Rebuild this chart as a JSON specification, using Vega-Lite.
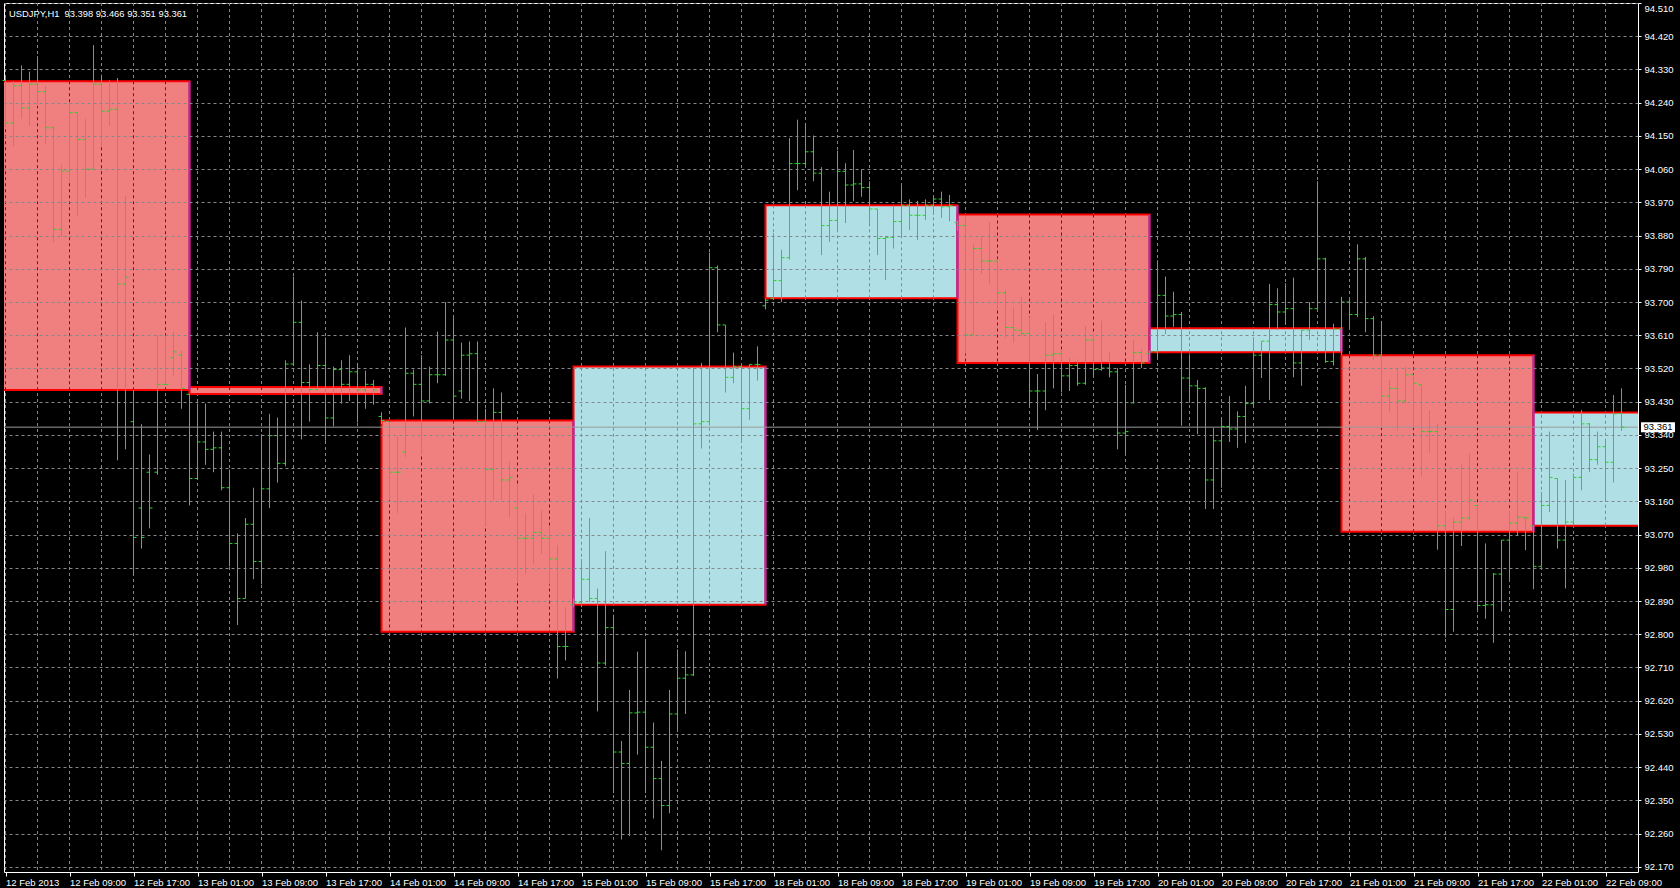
{
"$schema": "https://vega.github.io/schema/vega-lite/v6.json",
"width": 1634, "height": 869,
"autosize": {"type": "none"},
"padding": {"left": 4, "top": 3, "right": 42, "bottom": 16},
"background": "#000000",
"title": {"text": "USDJPY,H1 \u00a093.398 93.466 93.351 93.361", "anchor": "start", "frame": "group", "orient": "top", "offset": -11, "dx": 5, "dy": 5.5, "font": "Liberation Sans", "fontSize": 9.4, "fontWeight": "normal", "color": "#FFFFFF"},
"config": {"view": {"stroke": "#FFFFFF", "strokeWidth": 1}, "font": "Liberation Sans"},
"datasets": {
"days": [
{"day":"12 Feb","s":0,"e":24,"open":94.298,"close":93.462,"dir":"down"},
{"day":"13 Feb","s":24,"e":48,"open":93.470,"close":93.451,"dir":"down"},
{"day":"14 Feb","s":48,"e":72,"open":93.379,"close":92.807,"dir":"down"},
{"day":"15 Feb","s":72,"e":96,"open":92.880,"close":93.525,"dir":"up"},
{"day":"18 Feb","s":96,"e":120,"open":93.710,"close":93.962,"dir":"up"},
{"day":"19 Feb","s":120,"e":144,"open":93.937,"close":93.535,"dir":"down"},
{"day":"20 Feb","s":144,"e":168,"open":93.564,"close":93.629,"dir":"up"},
{"day":"21 Feb","s":168,"e":192,"open":93.556,"close":93.078,"dir":"down"},
{"day":"22 Feb","s":192,"e":216,"open":93.094,"close":93.401,"dir":"up"}
],
"grid": [{"g":1,"day":"12 Feb"},{"g":5,"day":"12 Feb"},{"g":9,"day":"12 Feb"},{"g":13,"day":"12 Feb"},{"g":17,"day":"12 Feb"},{"g":21,"day":"12 Feb"},
{"g":25,"day":"13 Feb"},{"g":29,"day":"13 Feb"},{"g":33,"day":"13 Feb"},{"g":37,"day":"13 Feb"},{"g":41,"day":"13 Feb"},{"g":45,"day":"13 Feb"},
{"g":49,"day":"14 Feb"},{"g":53,"day":"14 Feb"},{"g":57,"day":"14 Feb"},{"g":61,"day":"14 Feb"},{"g":65,"day":"14 Feb"},{"g":69,"day":"14 Feb"},
{"g":73,"day":"15 Feb"},{"g":77,"day":"15 Feb"},{"g":81,"day":"15 Feb"},{"g":85,"day":"15 Feb"},{"g":89,"day":"15 Feb"},{"g":93,"day":"15 Feb"},
{"g":97,"day":"18 Feb"},{"g":101,"day":"18 Feb"},{"g":105,"day":"18 Feb"},{"g":109,"day":"18 Feb"},{"g":113,"day":"18 Feb"},{"g":117,"day":"18 Feb"},
{"g":121,"day":"19 Feb"},{"g":125,"day":"19 Feb"},{"g":129,"day":"19 Feb"},{"g":133,"day":"19 Feb"},{"g":137,"day":"19 Feb"},{"g":141,"day":"19 Feb"},
{"g":145,"day":"20 Feb"},{"g":149,"day":"20 Feb"},{"g":153,"day":"20 Feb"},{"g":157,"day":"20 Feb"},{"g":161,"day":"20 Feb"},{"g":165,"day":"20 Feb"},
{"g":169,"day":"21 Feb"},{"g":173,"day":"21 Feb"},{"g":177,"day":"21 Feb"},{"g":181,"day":"21 Feb"},{"g":185,"day":"21 Feb"},{"g":189,"day":"21 Feb"},
{"g":193,"day":"22 Feb"},{"g":197,"day":"22 Feb"},{"g":201,"day":"22 Feb"}],
"bid": [{"price":93.361,"label":"93.361","pos":207.56}],
"bars": [
{"i":1,"o":94.30,"h":94.307,"l":94.176,"c":94.185},
{"i":2,"o":94.185,"h":94.298,"l":94.121,"c":94.286},
{"i":3,"o":94.286,"h":94.341,"l":94.196,"c":94.226},
{"i":4,"o":94.226,"h":94.324,"l":94.176,"c":94.29},
{"i":5,"o":94.29,"h":94.366,"l":94.231,"c":94.27},
{"i":6,"o":94.27,"h":94.286,"l":94.127,"c":94.172},
{"i":7,"o":94.172,"h":94.176,"l":93.861,"c":93.897},
{"i":8,"o":93.897,"h":94.072,"l":93.877,"c":94.055},
{"i":9,"o":94.055,"h":94.240,"l":94.024,"c":94.213},
{"i":10,"o":94.213,"h":94.213,"l":93.932,"c":94.14},
{"i":11,"o":94.14,"h":94.196,"l":93.983,"c":94.06},
{"i":12,"o":94.06,"h":94.396,"l":94.059,"c":94.29},
{"i":13,"o":94.29,"h":94.316,"l":94.121,"c":94.217},
{"i":14,"o":94.217,"h":94.300,"l":94.176,"c":94.222},
{"i":15,"o":94.222,"h":94.307,"l":93.271,"c":93.749},
{"i":16,"o":93.749,"h":93.987,"l":93.301,"c":93.767},
{"i":17,"o":93.376,"h":93.462,"l":92.961,"c":93.062},
{"i":18,"o":93.142,"h":93.369,"l":93.032,"c":93.062},
{"i":19,"o":93.239,"h":93.287,"l":93.087,"c":93.142},
{"i":20,"o":93.239,"h":93.611,"l":93.232,"c":93.477},
{"i":21,"o":93.477,"h":93.604,"l":93.474,"c":93.477},
{"i":22,"o":93.549,"h":93.620,"l":93.500,"c":93.565},
{"i":23,"o":93.556,"h":93.569,"l":93.411,"c":93.466},
{"i":24,"o":93.45,"h":93.452,"l":93.149,"c":93.222},
{"i":25,"o":93.222,"h":93.425,"l":93.218,"c":93.321},
{"i":26,"o":93.321,"h":93.425,"l":93.259,"c":93.301},
{"i":27,"o":93.301,"h":93.349,"l":93.239,"c":93.305},
{"i":28,"o":93.305,"h":93.349,"l":93.190,"c":93.197},
{"i":29,"o":93.197,"h":93.246,"l":92.984,"c":93.046},
{"i":30,"o":93.046,"h":93.073,"l":92.825,"c":92.897},
{"i":31,"o":92.897,"h":93.115,"l":92.897,"c":93.098},
{"i":32,"o":93.098,"h":93.197,"l":92.949,"c":92.997},
{"i":33,"o":92.997,"h":93.342,"l":92.935,"c":93.194},
{"i":34,"o":93.194,"h":93.397,"l":93.142,"c":93.338},
{"i":35,"o":93.338,"h":93.387,"l":93.211,"c":93.263},
{"i":36,"o":93.263,"h":93.542,"l":93.255,"c":93.532},
{"i":37,"o":93.532,"h":93.769,"l":93.528,"c":93.645},
{"i":38,"o":93.645,"h":93.704,"l":93.328,"c":93.482},
{"i":39,"o":93.482,"h":93.531,"l":93.376,"c":93.463},
{"i":40,"o":93.463,"h":93.618,"l":93.46,"c":93.528},
{"i":41,"o":93.528,"h":93.604,"l":93.324,"c":93.386},
{"i":42,"o":93.386,"h":93.525,"l":93.363,"c":93.517},
{"i":43,"o":93.517,"h":93.542,"l":93.425,"c":93.477},
{"i":44,"o":93.477,"h":93.556,"l":93.432,"c":93.511},
{"i":45,"o":93.511,"h":93.535,"l":93.374,"c":93.462},
{"i":46,"o":93.462,"h":93.514,"l":93.411,"c":93.477},
{"i":47,"o":93.477,"h":93.489,"l":93.422,"c":93.462},
{"i":48,"o":93.39,"h":93.401,"l":93.370,"c":93.379},
{"i":49,"o":93.376,"h":93.376,"l":93.163,"c":93.239},
{"i":50,"o":93.239,"h":93.335,"l":93.128,"c":93.239},
{"i":51,"o":93.294,"h":93.631,"l":93.280,"c":93.507},
{"i":52,"o":93.507,"h":93.517,"l":93.390,"c":93.477},
{"i":53,"o":93.477,"h":93.556,"l":93.287,"c":93.432},
{"i":54,"o":93.432,"h":93.525,"l":93.425,"c":93.503},
{"i":55,"o":93.503,"h":93.620,"l":93.480,"c":93.503},
{"i":56,"o":93.503,"h":93.700,"l":93.50,"c":93.597},
{"i":57,"o":93.597,"h":93.659,"l":93.387,"c":93.445},
{"i":58,"o":93.459,"h":93.590,"l":93.438,"c":93.556},
{"i":59,"o":93.556,"h":93.593,"l":93.432,"c":93.560},
{"i":60,"o":93.560,"h":93.593,"l":93.369,"c":93.376},
{"i":61,"o":93.376,"h":93.411,"l":93.094,"c":93.246},
{"i":62,"o":93.246,"h":93.466,"l":93.163,"c":93.401},
{"i":63,"o":93.401,"h":93.455,"l":93.163,"c":93.218},
{"i":64,"o":93.218,"h":93.269,"l":93.117,"c":93.225},
{"i":65,"o":93.142,"h":93.207,"l":92.938,"c":93.060},
{"i":66,"o":93.060,"h":93.128,"l":92.963,"c":93.060},
{"i":67,"o":93.060,"h":93.179,"l":92.991,"c":93.076},
{"i":68,"o":93.076,"h":93.135,"l":93.018,"c":93.060},
{"i":69,"o":93.060,"h":93.094,"l":92.935,"c":93.004},
{"i":70,"o":93.004,"h":93.042,"l":92.680,"c":92.767},
{"i":71,"o":92.767,"h":92.873,"l":92.729,"c":92.767},
{"i":72,"o":92.88,"h":92.897,"l":92.873,"c":92.887},
{"i":73,"o":92.887,"h":93.004,"l":92.873,"c":92.949},
{"i":74,"o":92.949,"h":93.115,"l":92.887,"c":92.897},
{"i":75,"o":92.897,"h":92.924,"l":92.591,"c":92.722},
{"i":76,"o":92.722,"h":93.025,"l":92.715,"c":92.818},
{"i":77,"o":92.818,"h":92.853,"l":92.370,"c":92.481},
{"i":78,"o":92.481,"h":92.511,"l":92.244,"c":92.45},
{"i":79,"o":92.45,"h":92.649,"l":92.253,"c":92.587},
{"i":80,"o":92.587,"h":92.753,"l":92.474,"c":92.589},
{"i":81,"o":92.589,"h":92.784,"l":92.370,"c":92.494},
{"i":82,"o":92.494,"h":92.561,"l":92.301,"c":92.409},
{"i":83,"o":92.409,"h":92.457,"l":92.215,"c":92.336},
{"i":84,"o":92.336,"h":92.649,"l":92.315,"c":92.584},
{"i":85,"o":92.584,"h":92.759,"l":92.543,"c":92.681},
{"i":86,"o":92.681,"h":92.754,"l":92.584,"c":92.690},
{"i":87,"o":92.690,"h":93.524,"l":92.687,"c":93.370},
{"i":88,"o":93.370,"h":93.535,"l":93.303,"c":93.376},
{"i":89,"o":93.376,"h":93.834,"l":93.365,"c":93.793},
{"i":90,"o":93.793,"h":93.799,"l":93.618,"c":93.638},
{"i":91,"o":93.638,"h":93.638,"l":93.455,"c":93.496},
{"i":92,"o":93.496,"h":93.563,"l":93.480,"c":93.525},
{"i":93,"o":93.525,"h":93.528,"l":93.318,"c":93.411},
{"i":94,"o":93.411,"h":93.531,"l":93.381,"c":93.531},
{"i":95,"o":93.531,"h":93.580,"l":93.487,"c":93.531},
{"i":96,"o":93.69,"h":93.710,"l":93.680,"c":93.705},
{"i":97,"o":93.71,"h":93.886,"l":93.707,"c":93.758},
{"i":98,"o":93.758,"h":93.842,"l":93.700,"c":93.820},
{"i":99,"o":93.820,"h":94.144,"l":93.815,"c":94.075},
{"i":100,"o":94.075,"h":94.194,"l":94.003,"c":94.075},
{"i":101,"o":94.075,"h":94.185,"l":94.068,"c":94.107},
{"i":102,"o":94.107,"h":94.151,"l":94.027,"c":94.049},
{"i":103,"o":94.049,"h":94.065,"l":93.827,"c":93.907},
{"i":104,"o":93.907,"h":93.999,"l":93.863,"c":93.921},
{"i":105,"o":93.921,"h":94.110,"l":93.890,"c":94.054},
{"i":106,"o":94.054,"h":94.076,"l":93.914,"c":94.017},
{"i":107,"o":94.017,"h":94.112,"l":93.973,"c":94.020},
{"i":108,"o":94.020,"h":94.059,"l":93.985,"c":94.010},
{"i":109,"o":94.010,"h":94.027,"l":93.914,"c":93.952},
{"i":110,"o":93.952,"h":93.952,"l":93.827,"c":93.872},
{"i":111,"o":93.872,"h":93.879,"l":93.760,"c":93.875},
{"i":112,"o":93.875,"h":93.962,"l":93.845,"c":93.918},
{"i":113,"o":93.918,"h":94.014,"l":93.879,"c":93.962},
{"i":114,"o":93.962,"h":93.978,"l":93.895,"c":93.935},
{"i":115,"o":93.935,"h":93.974,"l":93.868,"c":93.935},
{"i":116,"o":93.935,"h":93.978,"l":93.922,"c":93.962},
{"i":117,"o":93.962,"h":93.985,"l":93.936,"c":93.979},
{"i":118,"o":93.979,"h":93.999,"l":93.928,"c":93.958},
{"i":119,"o":93.958,"h":93.990,"l":93.919,"c":93.961},
{"i":120,"o":93.915,"h":93.921,"l":93.893,"c":93.907},
{"i":121,"o":93.907,"h":93.935,"l":93.560,"c":93.611},
{"i":122,"o":93.611,"h":93.858,"l":93.611,"c":93.845},
{"i":123,"o":93.845,"h":93.879,"l":93.776,"c":93.811},
{"i":124,"o":93.811,"h":93.916,"l":93.748,"c":93.811},
{"i":125,"o":93.811,"h":93.817,"l":93.680,"c":93.725},
{"i":126,"o":93.725,"h":93.732,"l":93.604,"c":93.631},
{"i":127,"o":93.631,"h":93.686,"l":93.590,"c":93.624},
{"i":128,"o":93.624,"h":93.714,"l":93.607,"c":93.615},
{"i":129,"o":93.615,"h":93.659,"l":93.421,"c":93.459},
{"i":130,"o":93.459,"h":93.505,"l":93.353,"c":93.459},
{"i":131,"o":93.459,"h":93.645,"l":93.407,"c":93.556},
{"i":132,"o":93.556,"h":93.666,"l":93.466,"c":93.560},
{"i":133,"o":93.560,"h":93.572,"l":93.455,"c":93.500},
{"i":134,"o":93.500,"h":93.549,"l":93.459,"c":93.528},
{"i":135,"o":93.528,"h":93.545,"l":93.473,"c":93.480},
{"i":136,"o":93.480,"h":93.635,"l":93.476,"c":93.597},
{"i":137,"o":93.597,"h":93.615,"l":93.500,"c":93.517},
{"i":138,"o":93.517,"h":93.649,"l":93.514,"c":93.521},
{"i":139,"o":93.521,"h":93.565,"l":93.496,"c":93.511},
{"i":140,"o":93.511,"h":93.521,"l":93.301,"c":93.345},
{"i":141,"o":93.345,"h":93.476,"l":93.291,"c":93.349},
{"i":142,"o":93.427,"h":93.597,"l":93.425,"c":93.563},
{"i":143,"o":93.563,"h":93.572,"l":93.521,"c":93.535},
{"i":144,"o":93.56,"h":93.569,"l":93.542,"c":93.565},
{"i":145,"o":93.565,"h":93.813,"l":93.545,"c":93.718},
{"i":146,"o":93.718,"h":93.769,"l":93.613,"c":93.662},
{"i":147,"o":93.662,"h":93.728,"l":93.633,"c":93.666},
{"i":148,"o":93.666,"h":93.673,"l":93.365,"c":93.494},
{"i":149,"o":93.494,"h":93.558,"l":93.427,"c":93.473},
{"i":150,"o":93.473,"h":93.489,"l":93.342,"c":93.466},
{"i":151,"o":93.466,"h":93.469,"l":93.139,"c":93.218},
{"i":152,"o":93.218,"h":93.359,"l":93.139,"c":93.324},
{"i":153,"o":93.324,"h":93.383,"l":93.197,"c":93.363},
{"i":154,"o":93.363,"h":93.445,"l":93.321,"c":93.356},
{"i":155,"o":93.356,"h":93.404,"l":93.305,"c":93.390},
{"i":156,"o":93.390,"h":93.473,"l":93.318,"c":93.425},
{"i":157,"o":93.425,"h":93.604,"l":93.421,"c":93.556},
{"i":158,"o":93.556,"h":93.594,"l":93.494,"c":93.594},
{"i":159,"o":93.594,"h":93.749,"l":93.434,"c":93.693},
{"i":160,"o":93.693,"h":93.737,"l":93.624,"c":93.673},
{"i":161,"o":93.673,"h":93.751,"l":93.638,"c":93.682},
{"i":162,"o":93.682,"h":93.766,"l":93.496,"c":93.535},
{"i":163,"o":93.535,"h":93.624,"l":93.473,"c":93.624},
{"i":164,"o":93.624,"h":93.700,"l":93.597,"c":93.682},
{"i":165,"o":93.682,"h":94.027,"l":93.682,"c":93.817},
{"i":166,"o":93.817,"h":93.820,"l":93.535,"c":93.539},
{"i":167,"o":93.539,"h":93.641,"l":93.528,"c":93.627},
{"i":168,"o":93.627,"h":93.714,"l":93.556,"c":93.700},
{"i":169,"o":93.700,"h":93.707,"l":93.631,"c":93.666},
{"i":170,"o":93.666,"h":93.856,"l":93.659,"c":93.817},
{"i":171,"o":93.817,"h":93.822,"l":93.618,"c":93.655},
{"i":172,"o":93.655,"h":93.662,"l":93.542,"c":93.556},
{"i":173,"o":93.556,"h":93.649,"l":93.365,"c":93.445},
{"i":174,"o":93.445,"h":93.489,"l":93.401,"c":93.466},
{"i":175,"o":93.466,"h":93.521,"l":93.352,"c":93.432},
{"i":176,"o":93.432,"h":93.524,"l":93.425,"c":93.503},
{"i":177,"o":93.503,"h":93.503,"l":93.360,"c":93.48},
{"i":178,"o":93.476,"h":93.476,"l":93.227,"c":93.349},
{"i":179,"o":93.349,"h":93.407,"l":93.291,"c":93.349},
{"i":180,"o":93.349,"h":93.370,"l":93.029,"c":93.094},
{"i":181,"o":93.094,"h":93.135,"l":92.791,"c":92.867},
{"i":182,"o":92.867,"h":93.117,"l":92.807,"c":93.104},
{"i":183,"o":93.104,"h":93.259,"l":93.039,"c":93.115},
{"i":184,"o":93.115,"h":93.291,"l":93.108,"c":93.163},
{"i":185,"o":93.149,"h":93.149,"l":92.867,"c":92.878},
{"i":186,"o":92.878,"h":93.046,"l":92.842,"c":92.880},
{"i":187,"o":92.880,"h":92.966,"l":92.777,"c":92.963},
{"i":188,"o":92.963,"h":93.055,"l":92.862,"c":93.055},
{"i":189,"o":93.055,"h":93.135,"l":92.949,"c":93.101},
{"i":190,"o":93.101,"h":93.241,"l":93.066,"c":93.117},
{"i":191,"o":93.117,"h":93.117,"l":93.028,"c":93.115},
{"i":192,"o":93.094,"h":93.094,"l":92.922,"c":92.984},
{"i":193,"o":92.984,"h":93.186,"l":92.984,"c":93.149},
{"i":194,"o":93.149,"h":93.349,"l":93.131,"c":93.225},
{"i":195,"o":93.222,"h":93.222,"l":93.032,"c":93.055},
{"i":196,"o":93.055,"h":93.218,"l":92.924,"c":93.104},
{"i":197,"o":93.104,"h":93.236,"l":93.101,"c":93.225},
{"i":198,"o":93.225,"h":93.407,"l":93.190,"c":93.370},
{"i":199,"o":93.370,"h":93.372,"l":93.239,"c":93.273},
{"i":200,"o":93.273,"h":93.349,"l":93.259,"c":93.308},
{"i":201,"o":93.308,"h":93.328,"l":93.167,"c":93.266},
{"i":202,"o":93.266,"h":93.448,"l":93.211,"c":93.397},
{"i":203,"o":93.398,"h":93.466,"l":93.351,"c":93.361}
]
},
"layer": [
{"data": {"name": "grid"},
 "mark": {"type": "rule", "color": "#7E8690", "strokeDash": [3,3], "strokeWidth": 1},
 "encoding": {"x": {"field": "g", "type": "quantitative",
        "scale": {"domain": [0.8125, 205.0625], "nice": false, "zero": false},
        "axis": {"orient": "bottom", "values": [1,9,17,25,33,41,49,57,65,73,81,89,97,105,113,121,129,137,145,153,161,169,177,185,193,201], "tickCount": 100,
                 "labelExpr": "datum.value == 1 ? '12 Feb 2013' : ['12 Feb','13 Feb','14 Feb','15 Feb','18 Feb','19 Feb','20 Feb','21 Feb','22 Feb'][floor(datum.value/24)] + ' ' + ((datum.value % 24) < 10 ? '0' : '') + (datum.value % 24) + ':00'",
                 "grid": false, "domain": false, "ticks": true, "tickColor": "#FFFFFF", "tickSize": 4, "tickWidth": 1,
                 "labelColor": "#FFFFFF", "labelFont": "Liberation Sans", "labelFontSize": 9.5, "labelAlign": "left", "labelBaseline": "top", "labelPadding": 1,
                 "labelOverlap": false, "labelBound": false, "labelFlush": false, "title": null}}}},
{"data": {"name": "days"},
 "mark": {"type": "rect", "clip": true, "stroke": "#FF0000", "strokeWidth": 2},
 "encoding": {
  "x": {"field": "s", "type": "quantitative"},
  "x2": {"field": "e"},
  "y": {"field": "open", "type": "quantitative",
        "scale": {"domain": [92.156, 94.51], "nice": false, "zero": false},
        "axis": {"orient": "right", "values": [92.17,92.26,92.35,92.44,92.53,92.62,92.71,92.8,92.89,92.98,93.07,93.16,93.25,93.34,93.43,93.52,93.61,93.7,93.79,93.88,93.97,94.06,94.15,94.24,94.33,94.42,94.51], "tickCount": 100,
                 "format": ".3f", "grid": true, "gridColor": "#84888C", "gridDash": [3,3], "gridWidth": 1,
                 "domain": false, "tickColor": "#FFFFFF", "tickSize": 3, "tickWidth": 1,
                 "labelColor": "#FFFFFF", "labelFont": "Liberation Sans", "labelFontSize": 9.5, "labelPadding": 3,
                 "labelOverlap": false, "labelBound": false, "labelFlush": true, "labelFlushOffset": 0, "title": null, "zindex": 1}},
  "y2": {"field": "close"},
  "fill": {"field": "dir", "type": "nominal", "scale": {"domain": ["down","up"], "range": ["#F08080","#B0E0E6"]}, "legend": null}
 }},
{"data": {"name": "grid"},
 "transform": [{"lookup": "day", "from": {"data": {"name": "days"}, "key": "day", "fields": ["open","close","dir"]}}],
 "mark": {"type": "rule", "strokeDash": [3,3], "strokeWidth": 1, "clip": true},
 "encoding": {"x": {"field": "g", "type": "quantitative"}, "y": {"field": "open", "type": "quantitative"}, "y2": {"field": "close"},
   "stroke": {"field": "dir", "type": "nominal", "scale": {"domain": ["down","up"], "range": ["#870819","#C7687F"]}, "legend": null}}},
{"data": {"name": "days"},
 "mark": {"type": "rule", "clip": true, "color": "#9932CC", "strokeWidth": 2},
 "encoding": {"x": {"field": "e", "type": "quantitative"}, "y": {"field": "open", "type": "quantitative"}, "y2": {"field": "close"}}},
{"data": {"name": "bid"},
 "mark": {"type": "rule", "color": "#9A9A9A", "strokeWidth": 1},
 "encoding": {"y": {"field": "price", "type": "quantitative"}}},
{"data": {"name": "bars"},
 "mark": {"type": "rule", "color": "#32CD32", "strokeWidth": 1, "clip": true},
 "encoding": {"x": {"field": "i", "type": "quantitative"}, "y": {"field": "l", "type": "quantitative"}, "y2": {"field": "h"}}},
{"data": {"name": "bars"},
 "mark": {"type": "tick", "orient": "horizontal", "color": "#32CD32", "size": 3, "thickness": 1, "xOffset": -1.5, "opacity": 1},
 "encoding": {"x": {"field": "i", "type": "quantitative"}, "y": {"field": "o", "type": "quantitative"}}},
{"data": {"name": "bars"},
 "mark": {"type": "tick", "orient": "horizontal", "color": "#32CD32", "size": 3, "thickness": 1, "xOffset": 1.5, "opacity": 1},
 "encoding": {"x": {"field": "i", "type": "quantitative"}, "y": {"field": "c", "type": "quantitative"}}},
{"data": {"name": "bid"},
 "mark": {"type": "tick", "orient": "horizontal", "color": "#FFFFFF", "size": 34, "thickness": 10, "opacity": 1},
 "encoding": {"x": {"field": "pos", "type": "quantitative"}, "y": {"field": "price", "type": "quantitative"}}},
{"data": {"name": "bid"},
 "mark": {"type": "text", "color": "#000000", "font": "Liberation Sans", "fontSize": 9.5, "align": "center", "baseline": "middle"},
 "encoding": {"x": {"field": "pos", "type": "quantitative"}, "y": {"field": "price", "type": "quantitative"}, "text": {"field": "label"}}}
]
}
